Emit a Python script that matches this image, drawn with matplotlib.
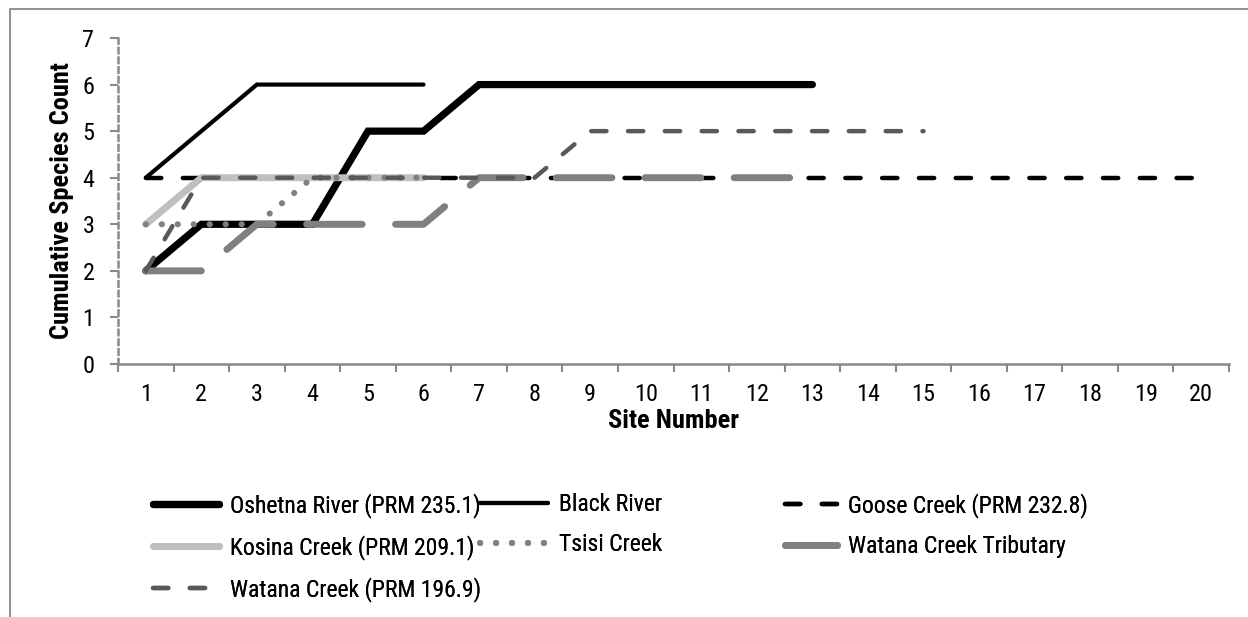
"""Cumulative species count by site number for upper Susitna tributaries."""

import matplotlib
matplotlib.use("Agg")
import matplotlib.pyplot as plt
from matplotlib import font_manager
from matplotlib.lines import Line2D

# data
oshetna = [2, 3, 3, 3, 5, 5, 6, 6, 6, 6, 6, 6, 6]
black_river = [4, 5, 6, 6, 6, 6]
goose = [4] * 20
kosina = [3, 4, 4, 4, 4, 4]
tsisi = [3, 3, 3, 4, 4, 4]
watana_trib = [2, 2, 3, 3, 3, 3, 4, 4, 4, 4, 4, 4, 4]
watana = [2, 4, 4, 4, 4, 4, 4, 4, 5, 5, 5, 5, 5, 5, 5]

site_labels = [str(i) for i in range(1, 21)]
y_ticks = list(range(0, 8))

# Arial Narrow look-alike
fonts = {f.name for f in font_manager.fontManager.ttflist}
family = "DejaVu Sans"
for cand in ("Liberation Sans Narrow", "Arial Narrow", "Roboto Condensed",
             "PT Sans Narrow", "Archivo Narrow", "Pragati Narrow"):
    if cand in fonts:
        family = cand
        break
plt.rcParams["font.family"] = [family, "DejaVu Sans"]
plt.rcParams["lines.scale_dashes"] = False
FS = 17.5
FS_LEGEND = 17
FS_LABEL = 19
GRAY = "#898989"

fig = plt.figure(figsize=(12.48, 6.17), dpi=100)
ax = fig.add_axes([118 / 1248, 1 - 364 / 617, 1111 / 1248, 326 / 617])

series = [
    (oshetna, "Oshetna River (PRM 235.1)", dict(color="black", lw=5.2, ls="-")),
    (black_river, "Black River", dict(color="black", lw=3.0, ls="-")),
    (goose, "Goose Creek (PRM 232.8)", dict(color="black", lw=3.2, dashes=(11, 15.5))),
    (kosina, "Kosina Creek (PRM 209.1)", dict(color="#bfbfbf", lw=5.0, ls="-")),
    (tsisi, "Tsisi Creek", dict(color="#808080", lw=4.4, dashes=(0.1, 11.4))),
    (watana_trib, "Watana Creek Tributary", dict(color="#808080", lw=5.0, dashes=(40, 24))),
    (watana, "Watana Creek (PRM 196.9)", dict(color="#595959", lw=3.2, dashes=(11, 15.5))),
]

handles = []
for values, label, style in series:
    xs = list(range(1, len(values) + 1))
    (line,) = ax.plot(xs, values, label=label, solid_capstyle="round",
                      dash_capstyle="round", solid_joinstyle="miter", **style)
    handles.append(line)

ax.set_xlim(0.5, 20.5)
ax.set_ylim(0, 7)
ax.set_xticks(range(1, 21))
ax.set_xticklabels(site_labels)
ax.set_xticks([i + 0.5 for i in range(0, 21)], minor=True)
ax.set_yticks(y_ticks)
ax.tick_params(axis="x", which="major", length=0, pad=14, labelsize=FS)
ax.tick_params(axis="x", which="minor", length=6, width=1.5, color=GRAY, direction="out")
ax.tick_params(axis="y", length=6, width=1.5, color=GRAY, direction="out", pad=11, labelsize=FS)

for side in ("top", "right"):
    ax.spines[side].set_visible(False)
ax.spines["bottom"].set_color(GRAY)
ax.spines["bottom"].set_linewidth(1.8)
ax.spines["left"].set_color(GRAY)
ax.spines["left"].set_linewidth(1.8)
ax.spines["left"].set_linestyle((0, (4, 3)))

ax.set_xlabel("Site Number", fontsize=FS_LABEL, fontweight="bold", va="center")
ax.xaxis.set_label_coords(0.5, -0.175)
ax.set_ylabel("Cumulative Species Count", fontsize=FS_LABEL, fontweight="bold", va="center")
ax.yaxis.set_label_coords(-0.0504, 0.5)

# three legend columns placed like the Excel layout
columns = [
    ([handles[0], handles[3], handles[6]], 153, 2.8),
    ([handles[1], handles[4]], 480, 2.9),
    ([handles[2], handles[5]], 785, 2.2),
]
for col_handles, x_px, hl in columns:
    leg = fig.legend(handles=col_handles, loc="upper left",
                     bbox_to_anchor=(x_px / 1248, 1 - 493 / 617),
                     frameon=False, fontsize=FS_LEGEND, handlelength=hl,
                     handletextpad=0.45, borderpad=0, borderaxespad=0,
                     labelspacing=0.72)
    fig.add_artist(leg)

# chart-area border, cropped on the right and bottom
fig.add_artist(Line2D([10 / 1248, 10 / 1248, 1.01], [-0.01, 1 - 9 / 617, 1 - 9 / 617],
                      transform=fig.transFigure, color=GRAY, lw=1.3))

fig.savefig("out.png", dpi=100)
